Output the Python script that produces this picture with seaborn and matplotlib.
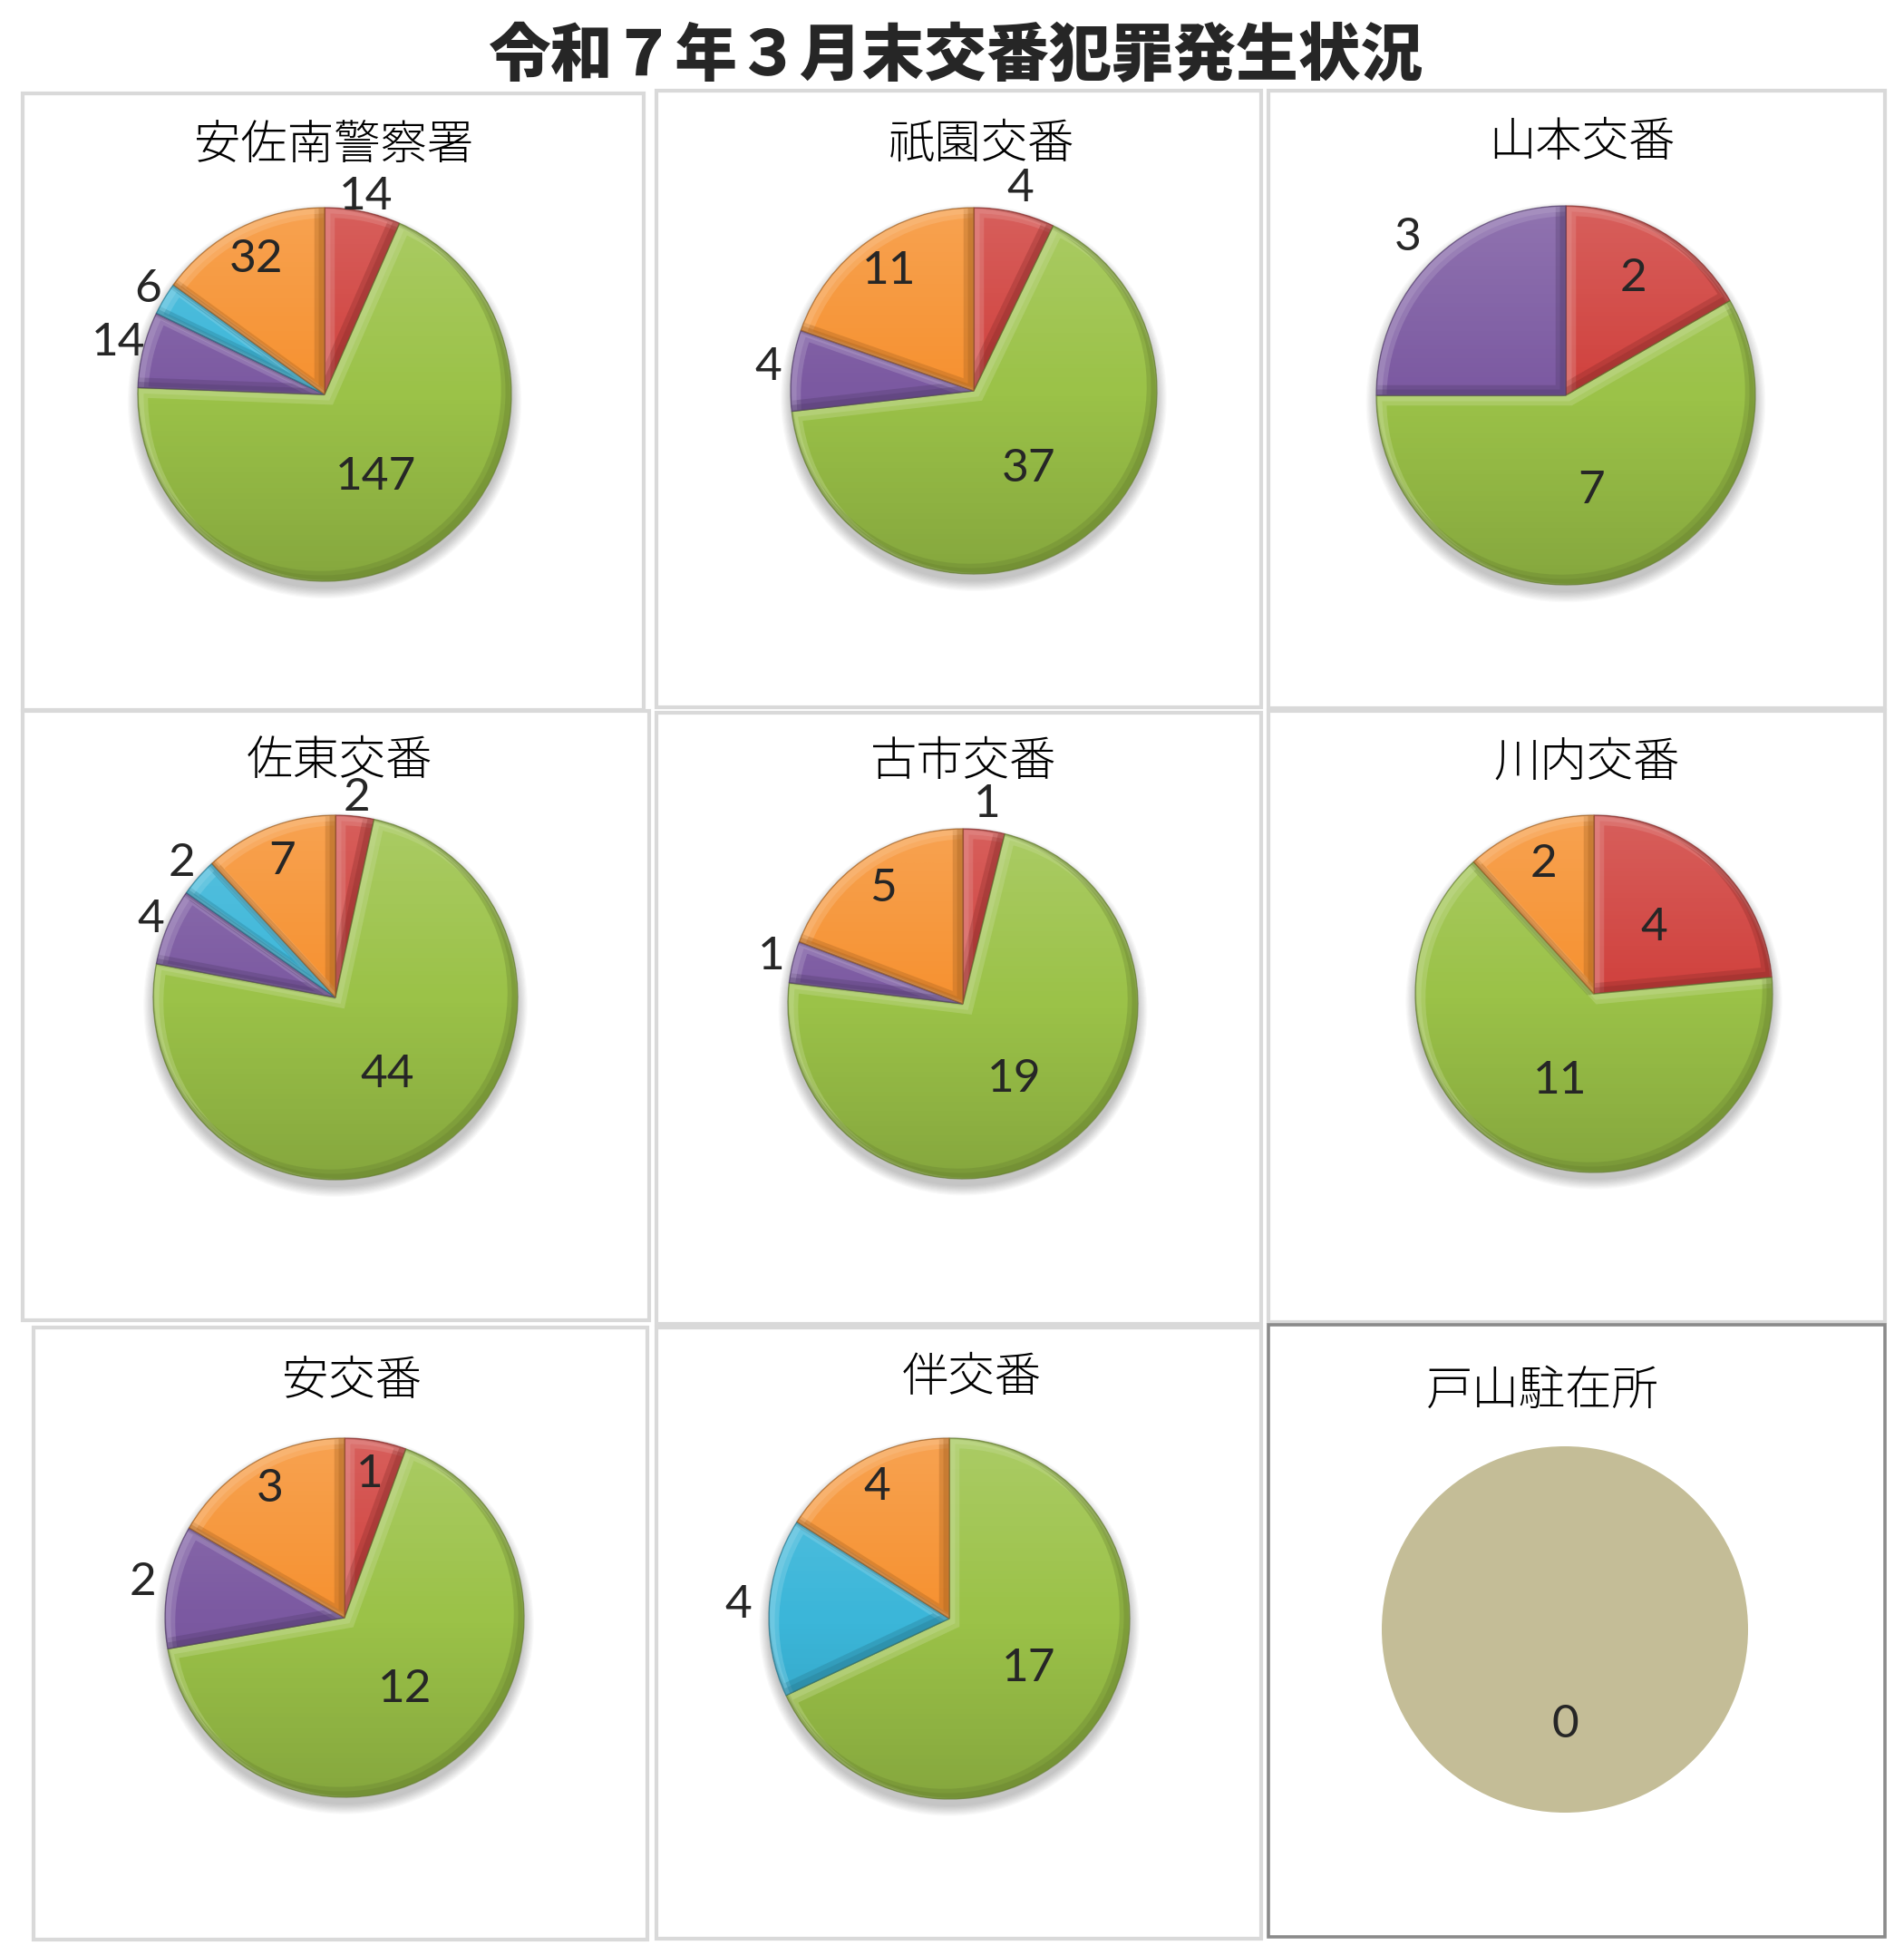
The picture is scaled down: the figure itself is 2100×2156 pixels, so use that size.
import numpy as np
import matplotlib
matplotlib.use("Agg")
import matplotlib.pyplot as plt
import matplotlib.colors as mcolors
import seaborn as sns
from matplotlib.patches import Rectangle, Circle, PathPatch
from matplotlib.transforms import Affine2D

# ---------------- data ----------------
TITLE = "令和７年３月末交番犯罪発生状況"
STATIONS = ["安佐南警察署", "祇園交番", "山本交番",
            "佐東交番", "古市交番", "川内交番",
            "安交番", "伴交番", "戸山駐在所"]
# five series (clockwise from 12 o'clock): red, green, purple, cyan, orange
SERIES_RED = [14, 4, 2, 2, 1, 4, 1, 0, 0]
SERIES_GREEN = [147, 37, 7, 44, 19, 11, 12, 17, 0]
SERIES_PURPLE = [14, 4, 3, 4, 1, 0, 2, 0, 0]
SERIES_CYAN = [6, 0, 0, 2, 0, 0, 0, 4, 0]
SERIES_ORANGE = [32, 11, 0, 7, 5, 2, 3, 4, 0]

# ---------------- style ----------------
COLORS = ["#D0413D", "#9BC248", "#7B59A1", "#3BB6D9", "#F69130"]
EMPTY_COLOR = "#C4BD97"

W, H = 2100, 2156
# panel frames (x0, y0, x1, y1) in pixels from top-left
PANELS = [(25, 103, 710, 783), (724, 100, 1391, 780), (1399, 100, 2079, 781),
          (25, 784, 716, 1456), (724, 786, 1391, 1460), (1399, 784, 2079, 1458),
          (37, 1464, 714, 2139), (724, 1464, 1391, 2138), (1399, 1461, 2079, 2136)]
FRAME_COLORS = ["#D9D9D9"] * 8 + ["#8A8A8A"]
# pie centre & radius (px)
PIES = [(358, 435, 206), (1074, 431, 202), (1727, 436, 209),
        (370, 1100, 201), (1062, 1107, 193), (1758, 1096, 197),
        (380, 1784, 198), (1047, 1785, 199), (1726, 1797, 202)]
TITLE_POS = [(368, 161), (1083, 159), (1745, 158),
             (374, 840), (1063, 841), (1750, 841),
             (388, 1523), (1072, 1519), (1701, 1534)]
# label radial distance (in pie radii) for each series, per pie
LABEL_R = [[1.08, 0.52, 1.14, 1.10, 0.81],
           [1.13, 0.52, 1.13, 1.10, 0.80],
           [0.71, 0.52, 1.18, 1.10, 0.80],
           [1.10, 0.51, 1.10, 1.12, 0.80],
           [1.15, 0.52, 1.13, 1.10, 0.80],
           [0.50, 0.52, 1.10, 1.10, 0.78],
           [0.81, 0.52, 1.14, 1.10, 0.83],
           [1.10, 0.52, 1.10, 1.17, 0.83],
           [0.52, 0.52, 0.52, 0.52, 0.52]]
LABEL_FONT = ["Lato", "DejaVu Sans"]
LABEL_SIZE = 37

sns.set_theme(style="white")
plt.rcParams['font.family'] = ['Noto Sans CJK JP', 'DejaVu Sans']

fig = plt.figure(figsize=(W / 100, H / 100), dpi=100)
fig.patch.set_facecolor("white")


def fx(x):
    return x / W


def fy(y):
    return 1 - y / H


# main title
fig.text(fx(1054), fy(63), TITLE, ha="center", va="center",
         fontsize=49.5, fontweight="heavy", family=['Noto Sans CJK JP', 'DejaVu Sans'])

# gradient image (top light -> bottom dark)
grad = np.zeros((256, 1, 4))
t = np.linspace(0, 1, 256)
top_alpha = np.clip(0.16 * (1 - 2 * t), 0, None)
bot_alpha = np.clip(0.14 * (2 * t - 1), 0, None)
grad[:, 0, :3] = np.where(t[:, None] < 0.5, 1.0, 0.0)
grad[:, 0, 3] = top_alpha + bot_alpha


def blend(c, other, f):
    c = np.array(mcolors.to_rgb(c))
    o = np.array(mcolors.to_rgb(other))
    return tuple(c * (1 - f) + o * f)


series = [SERIES_RED, SERIES_GREEN, SERIES_PURPLE, SERIES_CYAN, SERIES_ORANGE]

for i, name in enumerate(STATIONS):
    x0, y0, x1, y1 = PANELS[i]
    fig.add_artist(Rectangle((fx(x0), fy(y1)), (x1 - x0) / W, (y1 - y0) / H,
                             transform=fig.transFigure, fill=False,
                             edgecolor=FRAME_COLORS[i], linewidth=3 if i < 8 else 2.6))
    tx, ty = TITLE_POS[i]
    fig.text(fx(tx), fy(ty), name, ha="center", va="center", fontsize=37,
             fontweight="light", color="black")

    cx, cy, r = PIES[i]
    s = 1.5
    ax = fig.add_axes([fx(cx - s * r), fy(cy + s * r), 2 * s * r / W, 2 * s * r / H])
    ax.patch.set_visible(False)

    vals = [ser[i] for ser in series]
    total = sum(vals)
    if total == 0:
        wedges, _ = ax.pie([1], colors=[EMPTY_COLOR], startangle=90,
                           counterclock=False, radius=1,
                           wedgeprops=dict(linewidth=0))
        ax.text(0, -LABEL_R[i][0], str(total), ha="center", va="center",
                fontsize=LABEL_SIZE, family=LABEL_FONT)
    else:
        idx = [k for k, v in enumerate(vals) if v > 0]
        nz = [vals[k] for k in idx]
        cols = [COLORS[k] for k in idx]
        # soft shadow
        for j in range(10):
            ax.add_patch(Circle((0, 0), 1.0 + 0.006 * j, facecolor="black",
                                edgecolor="none", alpha=0.022, zorder=0,
                                transform=ax.transData + Affine2D().translate(0, -8)))
        wedges, _ = ax.pie(nz, colors=cols, startangle=90, counterclock=False,
                           radius=1, wedgeprops=dict(linewidth=0))
        for w in wedges:
            w.set_zorder(1)
        circ = Circle((0, 0), 1.0, transform=ax.transData, facecolor="none")
        im = ax.imshow(grad, extent=(-1, 1, -1, 1), aspect="auto", zorder=2,
                       interpolation="bilinear")
        im.set_clip_path(circ)
        # bevel strokes
        for w, k in zip(wedges, idx):
            path = w.get_path()
            for off, lw, a in ((5, 9, 0.35), (3, 5, 0.35)):
                lp = PathPatch(path, fill=False,
                               edgecolor=blend(COLORS[k], "white", 0.45),
                               linewidth=lw, alpha=a, zorder=3,
                               transform=ax.transData + Affine2D().translate(off, -off))
                ax.add_patch(lp)
                lp.set_clip_path(w)
                dp = PathPatch(path, fill=False,
                               edgecolor=blend(COLORS[k], "black", 0.35),
                               linewidth=lw, alpha=a * 0.9, zorder=3,
                               transform=ax.transData + Affine2D().translate(-off, off))
                ax.add_patch(dp)
                dp.set_clip_path(w)
            edge = PathPatch(path, fill=False, edgecolor=blend(COLORS[k], "black", 0.4),
                             linewidth=1.0, alpha=0.6, zorder=3, transform=ax.transData)
            ax.add_patch(edge)
            mid = np.deg2rad((w.theta1 + w.theta2) / 2)
            d = LABEL_R[i][k]
            ax.text(d * np.cos(mid), d * np.sin(mid), str(vals[k]),
                    ha="center", va="center", fontsize=LABEL_SIZE,
                    family=LABEL_FONT, zorder=5)
    ax.set_xlim(-s, s)
    ax.set_ylim(-s, s)
    ax.set_aspect("equal")
    ax.axis("off")

fig.savefig("out.png", dpi=100, facecolor="white")
